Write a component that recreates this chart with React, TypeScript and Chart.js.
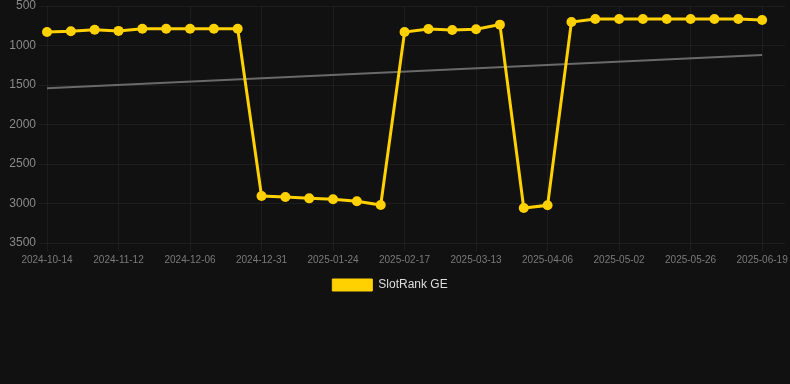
import React, { useEffect, useRef } from "react";
import { Chart, registerables } from "chart.js";

Chart.register(...registerables);

const dates = [
  "2024-10-14", "2024-10-24", "2024-11-03", "2024-11-12", "2024-11-20", "2024-11-28",
  "2024-12-06", "2024-12-14", "2024-12-22", "2024-12-31", "2025-01-08", "2025-01-16",
  "2025-01-24", "2025-02-01", "2025-02-09", "2025-02-17", "2025-02-25", "2025-03-05",
  "2025-03-13", "2025-03-21", "2025-03-29", "2025-04-06", "2025-04-15", "2025-04-24",
  "2025-05-02", "2025-05-10", "2025-05-18", "2025-05-26", "2025-06-03", "2025-06-11",
  "2025-06-19",
];

const rankValues = [
  830, 820, 800, 815, 787, 787, 787, 787, 787,
  2905, 2918, 2935, 2947, 2972, 3019,
  829, 791, 804, 795, 736,
  3057, 3023,
  703, 665, 665, 665, 665, 665, 665, 665, 677,
];

const trendValues = [1540, 1120];

const labelIndices = [0, 3, 6, 9, 12, 15, 18, 21, 24, 27, 30];

const yTicks = [500, 1000, 1500, 2000, 2500, 3000, 3500];

const legendShift = {
  id: "legendShift",
  afterUpdate(chart: any) {
    if (chart.legend) {
      chart.legend.left -= 5;
      chart.legend.right -= 5;
    }
  },
};

export default function App() {
  const ref = useRef<HTMLCanvasElement | null>(null);

  useEffect(() => {
    document.body.style.margin = "0";
    document.body.style.background = "#111111";
    const canvas = ref.current;
    if (!canvas) return;
    const chart = new Chart(canvas, {
      type: "line",
      data: {
        datasets: [
          {
            label: "SlotRank GE",
            data: rankValues.map((v, i) => ({ x: i, y: v })),
            borderColor: "#FFD100",
            backgroundColor: "#FFD100",
            borderWidth: 3,
            pointRadius: 5,
            pointBackgroundColor: "#FFD100",
            pointBorderColor: "#FFD100",
            pointBorderWidth: 0,
            tension: 0,
            clip: false,
          },
          {
            label: "Trend",
            data: [
              { x: 0, y: trendValues[0] },
              { x: rankValues.length - 1, y: trendValues[1] },
            ],
            borderColor: "#6a6a6a",
            backgroundColor: "#6a6a6a",
            borderWidth: 2,
            pointRadius: 0,
            tension: 0,
          },
        ],
      },
      plugins: [legendShift],
      options: {
        animation: false,
        responsive: false,
        maintainAspectRatio: false,
        layout: { padding: 0 },
        plugins: {
          legend: {
            position: "bottom",
            labels: {
              color: "#dddddd",
              font: { size: 12, family: "Arial, 'Liberation Sans', sans-serif" },
              boxWidth: 40,
              boxHeight: 12,
              generateLabels: (c: any) =>
                Chart.defaults.plugins.legend.labels
                  .generateLabels(c)
                  .filter((item: any) => item.datasetIndex === 0)
                  .map((item: any) => ({ ...item, lineWidth: 1 })),
            },
          },
          tooltip: { enabled: false },
        },
        scales: {
          x: {
            type: "linear",
            min: 0,
            max: 30.96,
            afterBuildTicks: (scale) => {
              scale.ticks = labelIndices.map((v) => ({ value: v }));
            },
            afterFit: (scale: any) => {
              scale.paddingLeft = 0;
              scale.paddingRight = 0;
            },
            ticks: {
              color: "#7a7a7a",
              font: { size: 10, family: "Arial, 'Liberation Sans', sans-serif" },
              maxRotation: 0,
              autoSkip: false,
              callback: (value) => dates[Number(value)] ?? "",
            },
            grid: { color: "rgba(255,255,255,0.05)", tickLength: 8 },
            border: { display: false },
          },
          y: {
            reverse: true,
            min: 500,
            max: 3500,
            afterBuildTicks: (scale) => {
              scale.ticks = yTicks.map((v) => ({ value: v }));
            },
            afterFit: (scale: any) => {
              scale.width = 47;
              scale.paddingTop = 6;
              scale.paddingBottom = 0;
            },
            ticks: {
              color: "#8a8a8a",
              font: { size: 12, family: "Arial, 'Liberation Sans', sans-serif" },
              padding: 3,
              callback: (value) => String(value),
            },
            grid: { color: "rgba(255,255,255,0.05)", tickLength: 8 },
            border: { display: false },
          },
        },
      },
    });
    return () => chart.destroy();
  }, []);

  return (
    <div style={{ width: 790, height: 384, background: "#111111" }}>
      <canvas ref={ref} width={790} height={301} style={{ display: "block" }} />
    </div>
  );
}
